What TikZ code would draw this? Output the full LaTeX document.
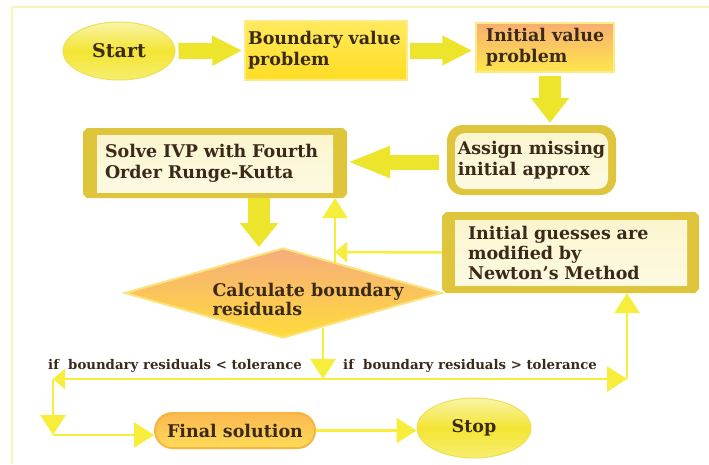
\documentclass[tikz,border=0pt]{standalone}
\usepackage{fontspec}
\setmainfont{DejaVu Serif}
\usetikzlibrary{shapes.geometric,shapes.misc,arrows.meta,calc}
\definecolor{txt}{HTML}{3B2A1A}
\definecolor{arrowY}{HTML}{EDE42C}
\definecolor{lineY}{HTML}{F6EE3A}
\definecolor{gold}{HTML}{DEC53C}
\definecolor{frameY}{HTML}{FAF6B4}
\definecolor{ellT}{HTML}{FAF4A8}
\definecolor{ellM}{HTML}{F3E533}
\definecolor{ellB}{HTML}{F7EE70}
\definecolor{ellD}{HTML}{EEDF5A}
\definecolor{bvpT}{HTML}{FFEA5E}
\definecolor{bvpB}{HTML}{FFDD22}
\definecolor{bvpD}{HTML}{FCEB86}
\definecolor{orT}{HTML}{F8AE72}
\definecolor{orM}{HTML}{FFD53C}
\definecolor{orB}{HTML}{FFE64C}
\definecolor{inT}{HTML}{FBF5CC}
\definecolor{inM}{HTML}{E6D57A}
\definecolor{inB}{HTML}{FDFAE4}
\definecolor{diaT}{HTML}{F6AC7C}
\definecolor{diaB}{HTML}{FFDC3A}
\definecolor{diaD}{HTML}{FCE27C}
\definecolor{finT}{HTML}{F9B850}
\definecolor{finB}{HTML}{FFDC58}
\definecolor{finD}{HTML}{F8B440}
\tikzset{
  box/.style={align=left, inner sep=0pt, text=txt},
  ellbox/.style={ellipse, inner sep=0pt, top color=ellT, bottom color=ellB, middle color=ellM, draw=ellD, line width=1pt, text=txt},
  goldbox/.style={fill=gold, align=left, inner sep=0pt, text=txt},
  chambox/.style={goldbox, chamfered rectangle, chamfered rectangle xsep=2pt, chamfered rectangle ysep=2pt},
  barrow/.style={line width=16pt, draw=arrowY, -{Triangle[width=28pt,length=30pt]}},
  conn/.style={line width=2.5pt, draw=lineY, -{Triangle[width=25pt,length=20pt]}},
  connsmall/.style={line width=2.5pt, draw=lineY, -{Triangle[width=20pt,length=12pt]}},
  lbl/.style={font=\bfseries\fontsize{13.3}{15}\selectfont, text=txt, inner sep=0pt}
}
\begin{document}
\begin{tikzpicture}[x=1pt,y=-1pt, font=\bfseries\fontsize{17.5}{21}\selectfont]
\useasboundingbox (0,0) rectangle (709,464);
\fill[white] (0,0) rectangle (709,464);
\draw[frameY, line width=1.5pt] (12,464) -- (12,7) -- (709,7);

% nodes
\node[ellbox, minimum width=112pt, minimum height=58pt, font=\bfseries\fontsize{19}{21}\selectfont] (start) at (119,51) {Start};
\node[box, inner xsep=3pt, text width=156pt, minimum height=59pt, top color=bvpT, bottom color=bvpB, draw=bvpD, line width=1.5pt] (bvp) at (326,50.5) {Boundary value\\problem};
\node[box, minimum width=138pt, minimum height=49pt, top color=orT, middle color=orM, bottom color=orB, draw=bvpD, line width=1.5pt] (ivp) at (545,47.5) {Initial value\\problem};
\node[goldbox, rounded corners=16pt, minimum width=169pt, minimum height=70pt,
  path picture={\shade[rounded corners=10pt, top color=inT, middle color=inM!60!inB, bottom color=inB]
   ([xshift=8pt,yshift=-8pt]path picture bounding box.north west) rectangle ([xshift=-8pt,yshift=6pt]path picture bounding box.south east);}] (assign) at (531.5,160) {Assign missing\\initial approx};
\node[chambox, inner xsep=20pt, text width=220pt, minimum height=70pt,
  path picture={\shade[top color=inT, middle color=inM, bottom color=inB]
   ([xshift=14pt,yshift=-7pt]path picture bounding box.north west) rectangle ([xshift=-14pt,yshift=6pt]path picture bounding box.south east);}] (solve) at (215,163) {Solve IVP with Fourth\\Order Runge-Kutta};
\node[chambox, inner xsep=24pt, text width=205pt, minimum height=81pt, font=\bfseries\fontsize{17.5}{20}\selectfont,
  path picture={\shade[top color=inT, middle color=inM, bottom color=inB]
   ([xshift=13pt,yshift=-8pt]path picture bounding box.north west) rectangle ([xshift=-12pt,yshift=8pt]path picture bounding box.south east);}] (newton) at (570.5,252.5) {Initial guesses are\\modified by\\Newton’s Method};
\node[diamond, aspect=3.5, minimum width=317pt, minimum height=90pt, inner sep=0pt, top color=diaT, bottom color=diaB, draw=diaD, line width=2pt] (calc) at (283,293) {};
\node[box, font=\bfseries\fontsize{17.5}{19}\selectfont] (calctxt) at (308,299) {Calculate boundary\\residuals};
\node[rounded rectangle, inner sep=0pt, minimum width=160pt, minimum height=35pt, top color=finT, bottom color=finB, draw=finD, line width=2pt, text=txt] (final) at (235,430.5) {Final solution};
\node[ellbox, minimum width=114pt, minimum height=60pt] (stop) at (474,428) {Stop};

% labels
\node[lbl, anchor=base west] (ltless) at (48,369) {if\ \ boundary residuals < tolerance};
\node[lbl, anchor=base west] (ltmore) at (343,369) {if\ \ boundary residuals > tolerance};

% block arrows
\draw[barrow] ($(start.east)+(3,0)$) -- ($(bvp.west)+(-2,0)$);
\draw[barrow] ($(bvp.east)+(2,0)$) -- ($(ivp.west |- bvp.east)+(-3,0)$);
\draw[line width=22pt, draw=arrowY, -{Triangle[width=37pt,length=25pt]}] ($(ivp.south)+(5,3)$) -- ($(assign.north -| ivp.south)+(5,-2)$);
\draw[line width=15pt, draw=arrowY, -{Triangle[width=29pt,length=43pt]}] ($(assign.west)+(-8,2)$) -- ($(solve.east |- assign.west)+(0,2)$);
\draw[line width=22pt, draw=arrowY, -{Triangle[width=37pt,length=24pt]}] ($(solve.south)+(44,0)$) -- ($(calc.north -| solve.south)+(44,0)$);

% thin connectors
\coordinate (j1) at (335,252);
\coordinate (j2) at (335,263);
\draw[connsmall] (newton.west) -- (j1);
\draw[conn] (j2) -- (j2 |- solve.south);
\coordinate (d1) at (323,328);
\coordinate (c1) at (323,379);
\coordinate (cl) at (53,379);
\coordinate (cr) at (627,379);
\coordinate (cb) at (53,435);
\draw[conn] (d1) -- (c1);
\draw[connsmall] (c1) -- (cl);
\draw[conn] (c1) -- (cr);
\draw[conn] (cl) -- (cb);
\draw[conn] (cb) -- (cb -| final.west);
\draw[conn] (cr) -- (cr |- newton.south);
\draw[conn] (final.east) -- (final.east -| stop.west);
\end{tikzpicture}
\end{document}
